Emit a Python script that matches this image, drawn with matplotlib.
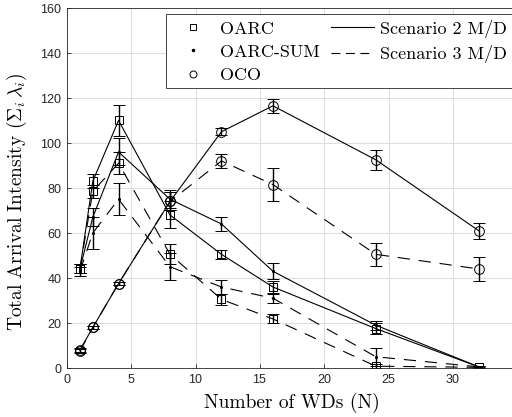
import matplotlib

matplotlib.use("Agg")
import matplotlib.pyplot as plt
from matplotlib.lines import Line2D

plt.rcParams["mathtext.fontset"] = "cm"
plt.rcParams["axes.formatter.use_mathtext"] = True

# Number of WDs
N = [1, 2, 4, 8, 12, 16, 24, 32]

# Scenario 2 M/D (solid)
oarc_s2 = [44, 83, 110, 68, 50.5, 36, 17.5, 0.5]
oarc_s2_err = [2, 3, 7, 6, 2, 2.5, 2.5, 0.4]
oarcsum_s2 = [44, 67, 96, 75, 64, 43, 19, 0.5]
oarcsum_s2_err = [2, 4, 6, 4, 3, 3.5, 2, 0.4]
oco_s2 = [8, 18, 37.5, 74, 105, 116.5, 92.5, 61]
oco_s2_err = [0.8, 0.8, 0.8, 4, 1.5, 3, 4.5, 3.5]

# Scenario 3 M/D (dashed)
oarc_s3 = [44, 78.5, 91, 50.5, 30.5, 21.8, 0.8, 0.3]
oarc_s3_err = [2, 3, 5, 4.5, 2.5, 2, 0.8, 0.3]
oarcsum_s3 = [43, 60, 75, 45, 36, 31, 5, 0.5]
oarcsum_s3_err = [2, 7, 7, 6, 3, 2, 4, 0.4]
oco_s3 = [7.5, 18, 37.5, 74, 92, 81.5, 50.5, 44]
oco_s3_err = [1, 0.8, 0.8, 4, 3.3, 7.5, 5, 5.5]

SOLID = "-"
DASHED = (0, (11, 8))
SERIES = [
    (oarc_s2, oarc_s2_err, "s", SOLID),
    (oarcsum_s2, oarcsum_s2_err, ".", SOLID),
    (oco_s2, oco_s2_err, "o", SOLID),
    (oarc_s3, oarc_s3_err, "s", DASHED),
    (oarcsum_s3, oarcsum_s3_err, ".", DASHED),
    (oco_s3, oco_s3_err, "o", DASHED),
]
MARKER_SIZE = {"s": 5.5, ".": 3, "o": 7}

fig = plt.figure(figsize=(5.12, 4.17), dpi=100)
# axes runs slightly past the right edge, as in the cropped original
ax = fig.add_axes([0.131, 0.1175, 0.8795, 0.8635])

for vals, errs, marker, ls in SERIES:
    ax.errorbar(
        N, vals, yerr=errs,
        color="black", marker=marker, markersize=MARKER_SIZE[marker],
        markerfacecolor="none" if marker != "." else "black",
        markeredgewidth=0.7, linewidth=0.8, linestyle=ls,
        elinewidth=1.0, capsize=4, capthick=1.0,
    )

ax.set_xlim(0, 35)
ax.set_ylim(0, 160)
ax.set_xticks(range(0, 31, 5))
ax.set_yticks(range(0, 161, 20))
ax.tick_params(direction="in", labelsize=9, length=3, width=0.6,
               colors="#262626", top=False, right=False)
for lbl in ax.get_xticklabels() + ax.get_yticklabels():
    lbl.set_family("Liberation Sans")
ax.grid(True, color="#dedede", linewidth=0.8)
ax.set_axisbelow(True)
for sp in ax.spines.values():
    sp.set_color("#262626")
    sp.set_linewidth(0.6)

label_font = {"family": "cmr10", "size": 14}
ax.set_xlabel("Number of WDs (N)", fontdict=label_font, labelpad=5)
ax.set_ylabel(r"Total Arrival Intensity ($\Sigma_i\,\lambda_i$)",
              fontdict=label_font)
ax.yaxis.set_label_coords(-0.085, 0.46)

handles = [
    Line2D([], [], color="black", marker="s", markersize=4, markerfacecolor="none",
           markeredgewidth=0.7, linestyle="none"),
    Line2D([], [], color="black", marker=".", markersize=3, linestyle="none"),
    Line2D([], [], color="black", marker="o", markersize=5, markerfacecolor="none",
           markeredgewidth=0.7, linestyle="none"),
    Line2D([], [], color="black", linewidth=0.8, linestyle="-"),
    Line2D([], [], color="black", linewidth=0.8, linestyle=(0, (8, 5))),
]
labels = ["OARC", "OARC-SUM", "OCO", "Scenario 2 M/D", "Scenario 3 M/D"]
leg = fig.legend(
    handles, labels, ncol=2, loc="upper right", bbox_to_anchor=(1.0, 0.966),
    prop={"family": "cmr10", "size": 13}, frameon=True, fancybox=False,
    edgecolor="#262626", framealpha=1, handlelength=2.4, handletextpad=0.3,
    columnspacing=0.6, borderpad=0.3, labelspacing=0.42, borderaxespad=0.0,
)
leg.get_frame().set_linewidth(0.6)

fig.savefig("out.png", dpi=100)
